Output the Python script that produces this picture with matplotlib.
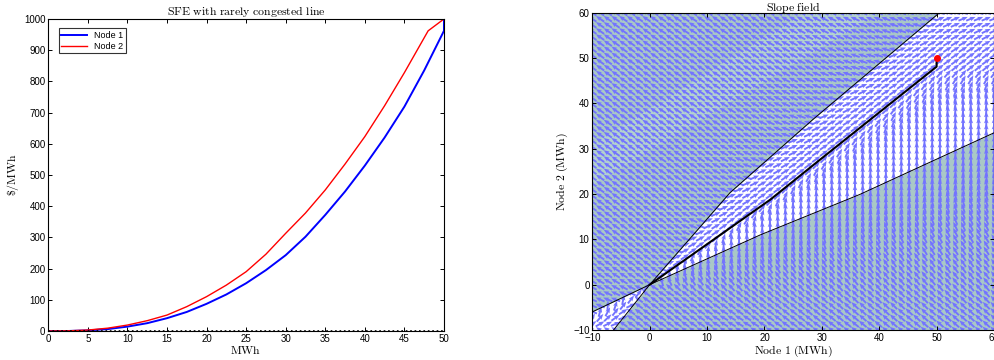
import numpy as np
import matplotlib
matplotlib.use("Agg")
import matplotlib.pyplot as plt

plt.rcParams['mathtext.fontset'] = 'cm'
plt.rcParams['font.family'] = ['Liberation Sans', 'DejaVu Sans']

# left panel: price vs quantity curves
mwh = [0, 2.5, 5, 7.5, 10, 12.5, 15, 17.5, 20, 22.5, 25, 27.5, 30, 32.5, 35,
       37.5, 40, 42.5, 45, 47.5, 50, 50]
node1_price = [0, 0, 2, 6, 14, 25, 41, 61, 87, 117, 153, 195, 243, 302, 372,
               447, 530, 620, 719, 835, 962, 1000]
node2_mwh = [0, 2.5, 5, 7.5, 10, 12.5, 15, 17.5, 20, 22.5, 25, 27.5, 30, 32.5,
             35, 37.5, 40, 42.5, 45, 48, 50]
node2_price = [0, 0.5, 3, 9, 19, 33, 51, 78, 110, 147, 190, 246, 313, 378,
               452, 535, 623, 722, 828, 962, 1000]

# right panel: boundaries, trajectory and end point
upper_x = [-6.3, 0, 14.0, 28.4, 50.5]
upper_y = [-10, 0, 20.3, 36.4, 60]
lower_x = [-10, 0, 19.3, 36.6, 60]
lower_y = [-6, 0, 11.0, 19.9, 33.5]
traj_x = [0, 21.0, 29.7, 50.0, 50.0]
traj_y = [0, 18.75, 27.6, 48.1, 50.0]
end_pt = (50, 50)
band_x = [-10, -10, 27, 40]
band_y = [22, 31, 60, 60]

ul_phi = [50, 60, 75, 100, 180, 215]
ul_psi = [165, 155, 148, 145, 150, 160]
lr_phi = [237, 270, 300, 333, 354, 370, 380, 389.5]
lr_psi = [145, 145, 145, 150, 135, 120, 105, 90]

fig = plt.figure(figsize=(9.95, 3.6), dpi=100)

ax1 = fig.add_axes([0.0485, 0.0806, 0.3977, 0.8667])
ax1.plot(mwh, node1_price, color='#0000ff', lw=1.4, label='Node 1')
ax1.plot(node2_mwh, node2_price, color='#ff0000', lw=1.0, label='Node 2')
ax1.plot([0, 50], [0, 0], 'k:', lw=1.2)
ax1.set_xlim(0, 50)
ax1.set_ylim(0, 1000)
ax1.set_xticks(np.arange(0, 51, 5))
ax1.set_yticks(np.arange(0, 1001, 100))
ax1.set_title(r'$\mathrm{SFE\ with\ rarely\ congested\ line}$', fontsize=8.5, pad=3)
ax1.set_xlabel(r'$\mathrm{MWh}$', fontsize=8.5, labelpad=1)
ax1.set_ylabel(r'$\$/\mathrm{MWh}$', fontsize=8.5, labelpad=2)
leg = ax1.legend(loc='upper left', fontsize=6.5, fancybox=False, edgecolor='k',
                 handlelength=2.8, borderpad=0.3, labelspacing=0.2,
                 bbox_to_anchor=(0.015, 0.985))
leg.get_frame().set_linewidth(0.8)

ax2 = fig.add_axes([0.5953, 0.0833, 0.4037, 0.8814])
teal = '#a9c8c6'
ax2.set_facecolor(teal)
ax2.fill(band_x, band_y, color='#b3d2ce', lw=0, zorder=0)
xs = np.linspace(0, 60, 400)
ax2.fill_between(xs, np.interp(xs, lower_x, lower_y), np.interp(xs, upper_x, upper_y),
                 color='white', lw=0, zorder=0.5)
xn = np.linspace(-10, 0, 100)
ax2.fill_between(xn, np.interp(xn, upper_x, upper_y), np.interp(xn, lower_x, lower_y),
                 color='white', lw=0, zorder=0.5)

# quiver field
g = np.linspace(-10, 60, 53)
X, Y = np.meshgrid(g, g)
low = np.interp(X, lower_x, lower_y)
up = np.interp(X, upper_x, upper_y)
tr = np.interp(X, traj_x[:-1], traj_y[:-1])
phi = np.degrees(np.arctan2(Y, X)) % 360
psi = np.zeros_like(X)

pos = X >= 0
wedge = pos & (Y > low) & (Y < up)
upleft = (pos & (Y >= up)) | (~pos & (Y >= low))
lowreg = (pos & (Y <= low)) | (~pos & (Y <= up))
llw = ~pos & (Y > up) & (Y < low)

psi[upleft] = np.interp(phi[upleft], ul_phi, ul_psi)
ph = np.where(phi < 200, phi + 360, phi)
psi[lowreg] = np.interp(ph[lowreg], lr_phi, lr_psi)
below = wedge & (Y < tr)
above = wedge & (Y >= tr)
t = np.clip((Y - low) / np.maximum(tr - low, 1e-6), 0, 1)
psi[below] = 37 + 53 * (1 - t[below] ** 3)
s = np.clip((Y - tr) / np.maximum(up - tr, 1e-6), 0, 1)
psi[above] = 37 - 17 * s[above]
r = np.clip((Y - up) / np.maximum(low - up, 1e-6), 0, 1)
psi[llw] = 20 + 70 * r[llw] ** 1.5

L = 10
U = L * np.cos(np.radians(psi)) / 5.747
V = L * np.sin(np.radians(psi)) / 4.533
ax2.quiver(X, Y, U, V, angles='xy', scale_units='xy', scale=1, pivot='middle',
           color='#7373ff', width=0.0048, headwidth=2.4, headlength=3.0,
           headaxislength=2.6, zorder=1)

ax2.plot(upper_x + [60], upper_y + [60], color='k', lw=0.7, zorder=2)
ax2.plot(lower_x, lower_y, color='k', lw=0.7, zorder=2)
ax2.plot(traj_x, traj_y, color='k', lw=1.5, zorder=3)
ax2.plot(*end_pt, 'o', color='#ff0000', ms=4, zorder=4)
ax2.set_xlim(-10, 60)
ax2.set_ylim(-10, 60)
ax2.set_xticks(np.arange(-10, 61, 10))
ax2.set_yticks(np.arange(-10, 61, 10))
ax2.set_title(r'$\mathrm{Slope\ field}$', fontsize=8.5, pad=1)
ax2.set_xlabel(r'$\mathrm{Node\ 1\ (MWh)}$', fontsize=8.5, labelpad=1)
ax2.set_ylabel(r'$\mathrm{Node\ 2\ (MWh)}$', fontsize=8.5, labelpad=2)

for ax in (ax1, ax2):
    ax.tick_params(direction='in', top=True, right=True, length=3, width=0.7,
                   labelsize=7, pad=2)
    for sp in ax.spines.values():
        sp.set_linewidth(0.8)
        sp.set_zorder(5)

fig.savefig('out.png', dpi=100)
